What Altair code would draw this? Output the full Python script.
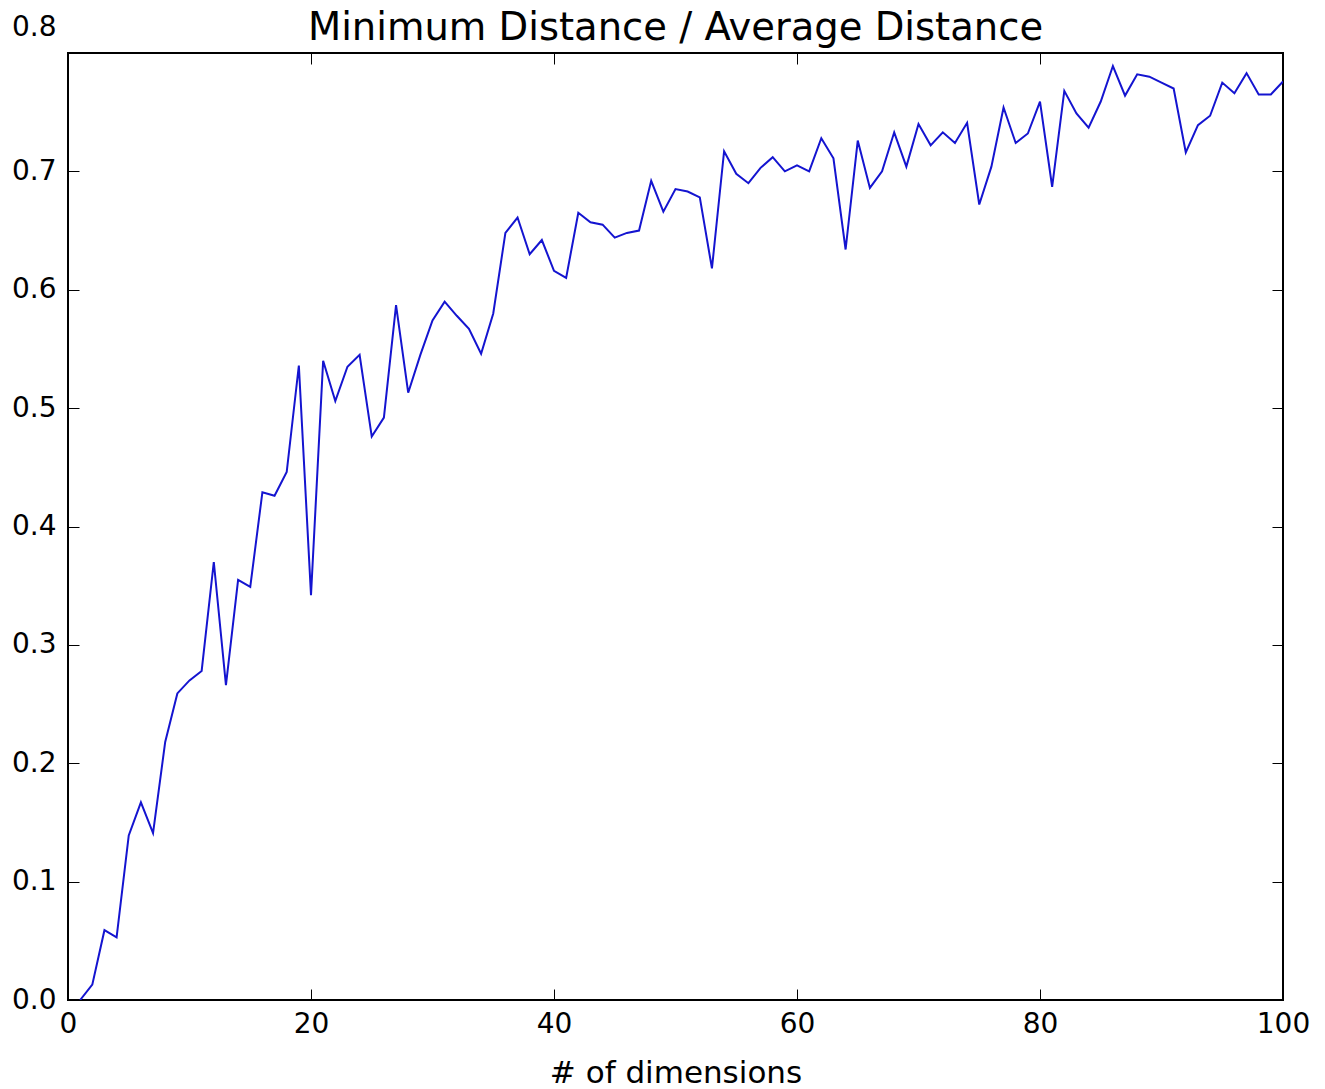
import altair as alt
import pandas as pd

dims = list(range(1, 101))
ratio = [
    0.000, 0.013, 0.059, 0.053, 0.139, 0.167, 0.141, 0.218, 0.259, 0.270,
    0.278, 0.370, 0.266, 0.355, 0.349, 0.429, 0.426, 0.446, 0.536, 0.342,
    0.540, 0.506, 0.535, 0.545, 0.476, 0.492, 0.587, 0.513, 0.545, 0.574,
    0.590, 0.578, 0.567, 0.546, 0.580, 0.648, 0.661, 0.630, 0.642, 0.616,
    0.610, 0.665, 0.657, 0.655, 0.644, 0.648, 0.650, 0.692, 0.666, 0.685,
    0.683, 0.678, 0.618, 0.717, 0.698, 0.690, 0.703, 0.712, 0.700, 0.705,
    0.700, 0.728, 0.711, 0.634, 0.726, 0.686, 0.700, 0.733, 0.704, 0.740,
    0.722, 0.733, 0.724, 0.741, 0.672, 0.704, 0.754, 0.724, 0.732, 0.759,
    0.687, 0.768, 0.749, 0.737, 0.759, 0.789, 0.764, 0.782, 0.780, 0.775,
    0.770, 0.716, 0.739, 0.747, 0.775, 0.766, 0.783, 0.765, 0.765, 0.776,
]
x_ticks = [0, 20, 40, 60, 80, 100]
y_ticks = [0.0, 0.1, 0.2, 0.3, 0.4, 0.5, 0.6, 0.7, 0.8]

df = pd.DataFrame({"dims": dims, "ratio": ratio})

W, H = 1215, 947
TICK = 11
FONT = "DejaVu Sans"

chart = (
    alt.Chart(df)
    .mark_line(color="#1414d0", strokeWidth=2, clip=True)
    .encode(
        x=alt.X(
            "dims:Q",
            scale=alt.Scale(domain=[0, 100], nice=False, zero=False),
            axis=alt.Axis(
                values=x_ticks,
                format="d",
                title="# of dimensions",
                titleFont=FONT,
                titleFontSize=31,
                titleFontWeight="normal",
                titleColor="black",
                titleBaseline="alphabetic",
                titleY=82,
                labelFont=FONT,
                labelFontSize=28,
                labelColor="black",
                labelPadding=10,
                labelFlush=False,
                ticks=False,
                domain=False,
                grid=True,
                gridColor="black",
                gridOpacity=1,
                gridWidth=1,
                gridDash=[TICK, H - 2 * TICK, TICK, 4000],
            ),
        ),
        y=alt.Y(
            "ratio:Q",
            scale=alt.Scale(domain=[0, 0.8], nice=False, zero=False),
            axis=alt.Axis(
                values=y_ticks,
                format=".1f",
                title=None,
                labelFont=FONT,
                labelFontSize=28,
                labelColor="black",
                labelPadding=12,
                labelFlush=False,
                labelOffset={"condition": {"test": "datum.value >= 0.79", "value": -26}, "value": 0},
                ticks=False,
                domain=False,
                grid=True,
                gridColor="black",
                gridOpacity=1,
                gridWidth=1,
                gridDash=[TICK, W - 2 * TICK, TICK, 4000],
            ),
        ),
    )
    .properties(
        width=W,
        height=H,
        background="white",
        title=alt.TitleParams(
            "Minimum Distance / Average Distance",
            font=FONT,
            fontSize=38.5,
            fontWeight="normal",
            color="black",
            anchor="middle",
            frame="group",
            baseline="alphabetic",
            offset=-28,
            dy=37,
        ),
        autosize=alt.AutoSizeParams(type="none"),
        padding={"left": 60, "top": 45, "right": 34, "bottom": 92},
    )
    .configure_view(stroke="black", strokeWidth=2)
)

chart.save("out.html", embed_options={"renderer": "svg", "actions": False})
